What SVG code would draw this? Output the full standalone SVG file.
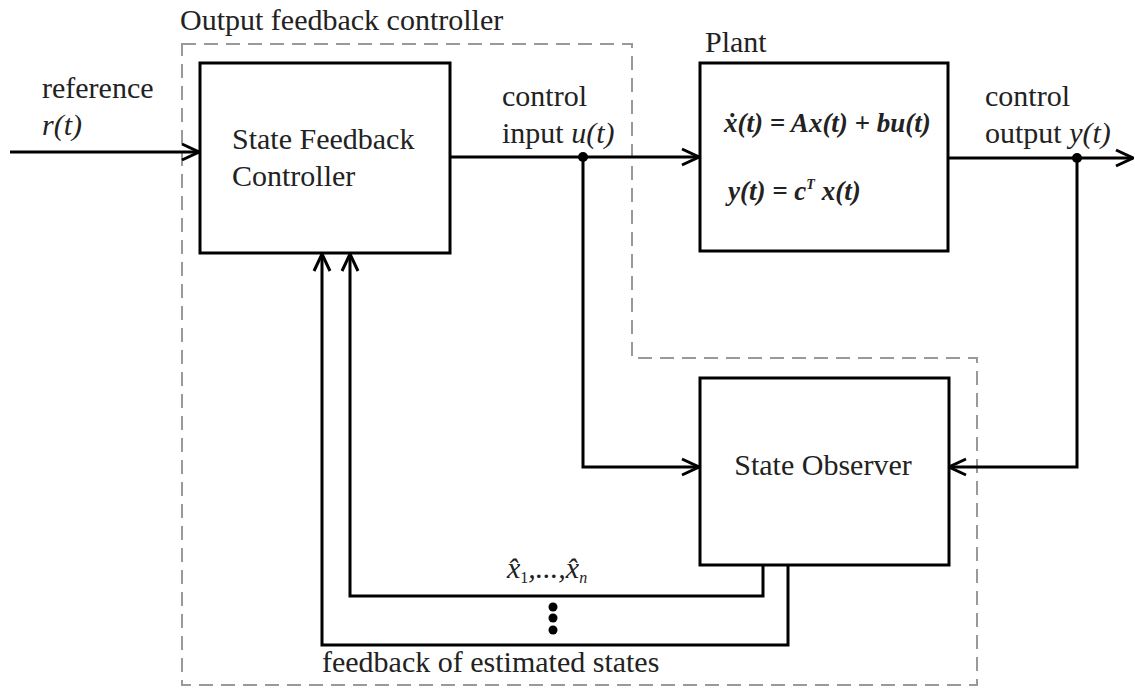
<svg xmlns="http://www.w3.org/2000/svg" width="1135" height="689" viewBox="0 0 1135 689">
<style>
.box{fill:#fff;stroke:#000;stroke-width:3}
.ln{fill:none;stroke:#000;stroke-width:3}
.dash{fill:none;stroke:#999;stroke-width:2;stroke-dasharray:14,8}
.serif{font-family:"Liberation Serif","Times New Roman",serif;font-size:30px;fill:#222}
.it{font-style:italic}
.eq{font-family:"Liberation Serif","Times New Roman",serif;font-size:27px;font-style:italic;font-weight:bold;fill:#222}
</style>
<defs>
<marker id="arrL" viewBox="0 0 20 20" refX="19" refY="10" markerWidth="20" markerHeight="20" markerUnits="userSpaceOnUse" orient="auto">
<path d="M2,2 L19,10 L2,18" fill="none" stroke="#000" stroke-width="3"/>
</marker>
</defs>
<rect width="1135" height="689" fill="#fff"/>
<g id="boundary">
<path class="dash" d="M182,44 L632,44 L632,358 L977,358 L977,685 L182,685 Z"/>
<text class="serif" x="180" y="30">Output feedback controller</text>
</g>
<g id="connectors">
<path class="ln" d="M10,152 L199,152" marker-end="url(#arrL)"/>
<path class="ln" d="M450,157 L699,157" marker-end="url(#arrL)"/>
<path class="ln" d="M948,158 L1133,158" marker-end="url(#arrL)"/>
<path class="ln" d="M583,157 L583,467 L699,467" marker-end="url(#arrL)"/>
<path class="ln" d="M1077,158 L1077,467 L949,467" marker-end="url(#arrL)"/>
<path class="ln" d="M763,565 L763,596 L350,596 L350,254" marker-end="url(#arrL)"/>
<path class="ln" d="M788,565 L788,645 L322,645 L322,254" marker-end="url(#arrL)"/>
<circle cx="583" cy="157" r="5" fill="#000"/>
<circle cx="1077" cy="158" r="5" fill="#000"/>
<circle cx="553" cy="607" r="4.5" fill="#000"/>
<circle cx="553" cy="618" r="4.5" fill="#000"/>
<circle cx="553" cy="630" r="4.5" fill="#000"/>
</g>
<g id="labels">
<text class="serif" x="42" y="98">reference</text>
<text class="serif it" x="42" y="135">r(t)</text>
<text class="serif" x="502" y="106">control</text>
<text class="serif" x="502" y="143">input <tspan class="it">u(t)</tspan></text>
<text class="serif" x="985" y="106">control</text>
<text class="serif" x="985" y="143">output <tspan class="it">y(t)</tspan></text>
<text class="serif it" x="507" y="578" font-size="28">x̂<tspan font-size="16" dy="5" font-style="normal">1</tspan><tspan dy="-5">,...,x̂</tspan><tspan font-size="16" dy="5">n</tspan></text>
<text class="serif" x="322" y="672">feedback of estimated states</text>
</g>
<g id="sfc">
<rect class="box" x="200" y="63" width="250" height="190"/>
<text class="serif" x="232" y="149">State Feedback</text>
<text class="serif" x="232" y="186">Controller</text>
</g>
<g id="plant">
<rect class="box" x="700" y="63" width="248" height="188"/>
<text class="serif" x="705" y="52">Plant</text>
<text class="eq" x="724" y="132">ẋ(t) = Ax(t) + bu(t)</text>
<text class="eq" x="728" y="200">y(t) = c<tspan font-size="14" dy="-11">T</tspan><tspan dy="11"> x(t)</tspan></text>
</g>
<g id="observer">
<rect class="box" x="700" y="378" width="249" height="187"/>
<text class="serif" x="823" y="475" text-anchor="middle">State Observer</text>
</g>
</svg>
